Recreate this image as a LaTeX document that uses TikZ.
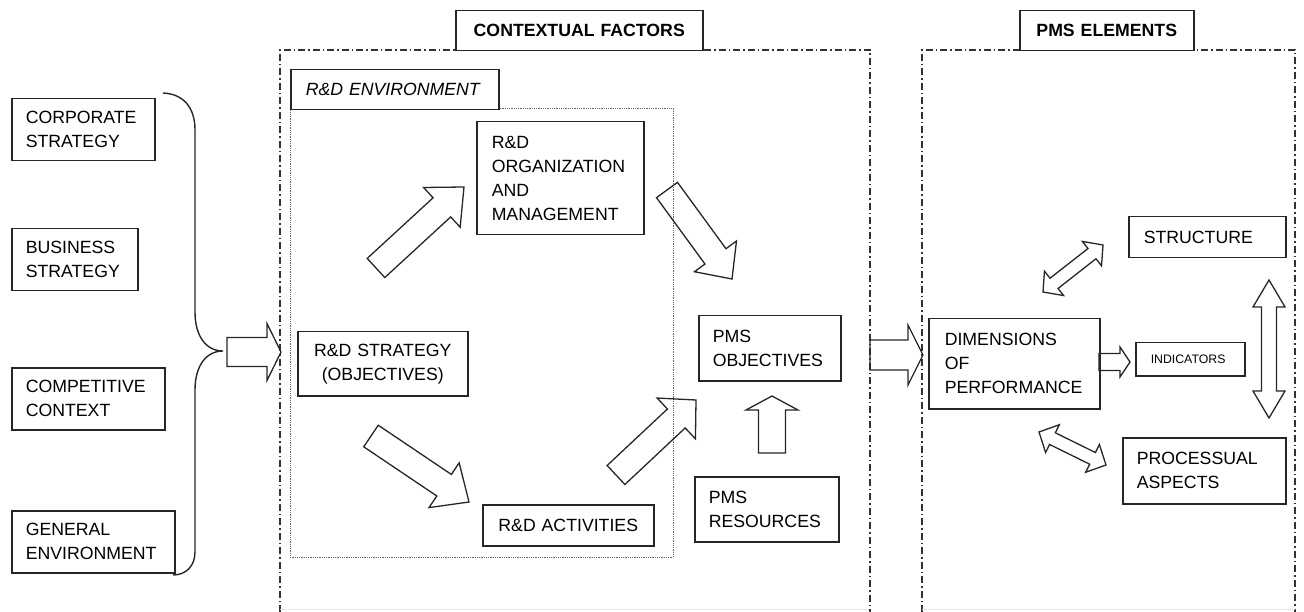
\documentclass[tikz,border=0pt]{standalone}
\usepackage{fontspec}
\setmainfont{Liberation Sans}
\setsansfont{Liberation Sans}
\usetikzlibrary{calc}

% Outlined block arrow from #1 to #2: half body width #3, half head width #4, head length #5 (pt)
\newcommand\blkarrow[5]{%
  \draw[blockarrow] let \p1=(#1), \p2=(#2),
      \n1={atan2(\y2-\y1,\x2-\x1)},
      \n2={veclen(\x2-\x1,\y2-\y1)-#5}
    in ($(\p1)+(\n1+90:#3pt)$)
    -- ($(\p1)+(\n1:\n2)+(\n1+90:#3pt)$)
    -- ($(\p1)+(\n1:\n2)+(\n1+90:#4pt)$)
    -- (\p2)
    -- ($(\p1)+(\n1:\n2)+(\n1-90:#4pt)$)
    -- ($(\p1)+(\n1:\n2)+(\n1-90:#3pt)$)
    -- ($(\p1)+(\n1-90:#3pt)$) -- cycle;}

% Outlined double-headed block arrow between #1 and #2
\newcommand\blkdarrow[5]{%
  \draw[blockarrow] let \p1=(#1), \p2=(#2),
      \n1={atan2(\y2-\y1,\x2-\x1)},
      \n2={veclen(\x2-\x1,\y2-\y1)-#5}
    in (\p1)
    -- ($(\p1)+(\n1:#5pt)+(\n1+90:#4pt)$)
    -- ($(\p1)+(\n1:#5pt)+(\n1+90:#3pt)$)
    -- ($(\p1)+(\n1:\n2)+(\n1+90:#3pt)$)
    -- ($(\p1)+(\n1:\n2)+(\n1+90:#4pt)$)
    -- (\p2)
    -- ($(\p1)+(\n1:\n2)+(\n1-90:#4pt)$)
    -- ($(\p1)+(\n1:\n2)+(\n1-90:#3pt)$)
    -- ($(\p1)+(\n1:#5pt)+(\n1-90:#3pt)$)
    -- ($(\p1)+(\n1:#5pt)+(\n1-90:#4pt)$)
    -- cycle;}

\tikzset{
  bx/.style={draw=black!85, line width=1.5pt, fill=white, anchor=north west,
    inner xsep=14pt, inner ysep=0pt, align=left},
  hdr/.style={bx, align=center, inner xsep=0pt, font=\fontsize{17.7}{24}\selectfont\bfseries},
  blockarrow/.style={draw=black!85, line width=1.3pt, line join=miter},
  framedd/.style={draw=black!80, line width=1.4pt,
    dash pattern=on 7pt off 3pt on 1.5pt off 3pt},
  envdot/.style={draw=black!60, line width=0.9pt, dash pattern=on 1pt off 0.8pt},
  faintline/.style={draw=black!18, line width=0.8pt, dash pattern=on 1pt off 1pt},
  brace/.style={draw=black!85, line width=1.4pt}
}

\begin{document}
\begin{tikzpicture}[x=1pt, y=-1pt, font=\fontsize{17.7}{24}\selectfont]
\useasboundingbox (0,0) rectangle (1304,612);

% Outer frames (open at the bottom)
\draw[framedd] (280,612) -- (280,50) -- (870,50) -- (870,612);
\draw[framedd] (922,612) -- (922,50) -- (1295,50) -- (1295,612);
\draw[faintline] (280,609) -- (870,609);
\draw[faintline] (922,609) -- (1295,609);

% R&D environment area
\draw[envdot] (498,108) -- (673,108) -- (673,557) -- (290,557) -- (290,109);

% Headers
\node[hdr, text width=247pt, minimum height=40pt] (ctx) at (455,10) {CONTEXTUAL FACTORS};
\node[hdr, text width=174pt, minimum height=40pt] (pmse) at (1019,10) {PMS ELEMENTS};
\node[bx, inner xsep=15pt, text width=178pt, minimum height=40pt, font=\fontsize{17.7}{24}\selectfont\itshape] (env) at (290,69) {R\&D ENVIRONMENT};

% External factors
\node[bx, text width=115pt, minimum height=62pt] (corp) at (11,98) {CORPORATE\\STRATEGY};
\node[bx, text width=98pt, minimum height=62pt] (bus) at (11,228) {BUSINESS\\STRATEGY};
\node[bx, text width=125pt, minimum height=62pt] (comp) at (11,367) {COMPETITIVE\\CONTEXT};
\node[bx, text width=135pt, minimum height=62pt] (gen) at (11,510) {GENERAL\\ENVIRONMENT};

% Contextual factors
\node[bx, align=center, text width=142pt, minimum height=64pt] (strat) at (297,331) {R\&D STRATEGY\\(OBJECTIVES)};
\node[bx, inner xsep=15pt, text width=137pt, minimum height=113pt] (org) at (476,121) {R\&D\\ORGANIZATION\\AND\\MANAGEMENT};
\node[bx, align=center, inner xsep=6pt, text width=159pt, minimum height=41pt] (act) at (482,504) {R\&D ACTIVITIES};
\node[bx, text width=114pt, minimum height=65pt] (pobj) at (698,315) {PMS\\OBJECTIVES};
\node[bx, text width=116pt, minimum height=65pt] (pres) at (694,476) {PMS\\RESOURCES};

% PMS elements
\node[bx, inner xsep=16pt, text width=139pt, minimum height=90pt] (dims) at (928,318) {DIMENSIONS\\OF\\PERFORMANCE};
\node[bx, inner xsep=15pt, text width=79pt, minimum height=33pt, font=\fontsize{12.3}{15}\selectfont] (ind) at (1135,342) {INDICATORS};
\node[bx, inner xsep=15pt, text width=127pt, minimum height=41pt] (struct) at (1128,216) {STRUCTURE};
\node[bx, text width=135pt, minimum height=66pt] (proc) at (1122,437) {PROCESSUAL\\ASPECTS};

% Brace gathering the external factors
\coordinate (btop) at (163,93);
\coordinate (btip) at (223,351);
\coordinate (bbot) at (173,575);
\draw[brace] (btop) .. controls (184,94) and (195,108) .. (195,130)
  -- (195,312) .. controls (195,336) and (206,351) .. (btip)
  .. controls (206,351) and (195,366) .. (195,390)
  -- (195,552) .. controls (195,566) and (186,575) .. (bbot);

% Arrow end points
\coordinate (a1s) at (227,352);  \coordinate (a1e) at (281,352);
\coordinate (a2s) at (376,268);  \coordinate (a2e) at (464,187);
\coordinate (a3s) at (667,190);  \coordinate (a3e) at (732,279);
\coordinate (a4s) at (371,436);  \coordinate (a4e) at (469,502);
\coordinate (a5s) at (616,475);  \coordinate (a5e) at (696,400);
\coordinate (a6s) at (772,453);  \coordinate (a6e) at (772,396);
\coordinate (a7s) at (870,355);  \coordinate (a7e) at (923,355);
\coordinate (a8s) at (1099,362); \coordinate (a8e) at (1130,362);
\coordinate (d1s) at (1043,292); \coordinate (d1e) at (1103,245);
\coordinate (d2s) at (1039,432); \coordinate (d2e) at (1106,465);
\coordinate (d3s) at (1269,280); \coordinate (d3e) at (1269,418);

% Flow arrows
\blkarrow{a1s}{a1e}{14.5}{28.5}{14}
\blkarrow{a2s}{a2e}{13}{27}{30}
\blkarrow{a3s}{a3e}{13}{26}{28}
\blkarrow{a4s}{a4e}{13}{27}{30}
\blkarrow{a5s}{a5e}{13}{28}{27}
\blkarrow{a6s}{a6e}{13.5}{26}{14}
\blkarrow{a7s}{a7e}{15}{30}{15}
\blkarrow{a8s}{a8e}{8.5}{15}{10}
\blkdarrow{d1s}{d1e}{6.5}{15.5}{14}
\blkdarrow{d2s}{d2e}{6.5}{15.5}{15}
\blkdarrow{d3s}{d3e}{7.5}{16}{27}
\end{tikzpicture}
\end{document}
